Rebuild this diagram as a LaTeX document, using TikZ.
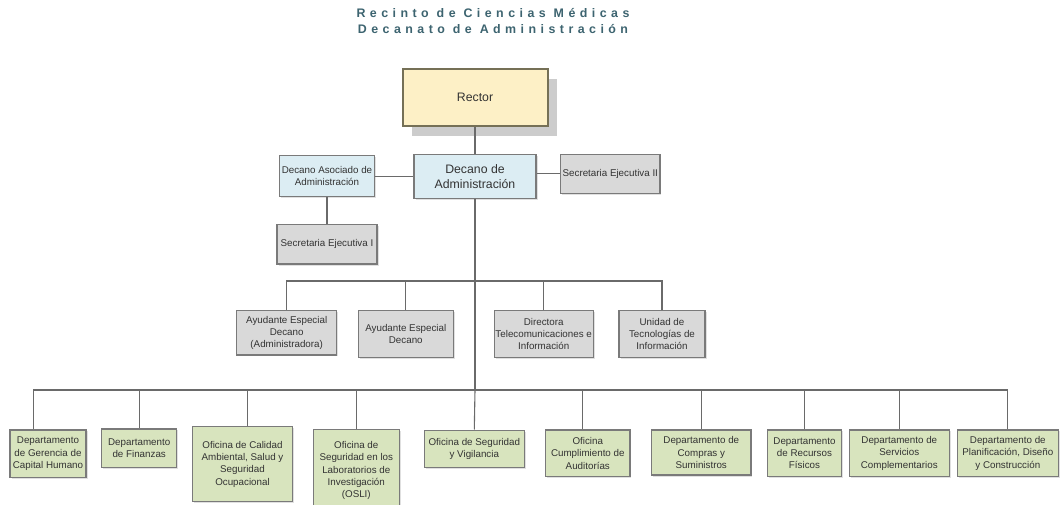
\documentclass[tikz,border=0pt]{standalone}
\usepackage{fontspec}
\setmainfont{Liberation Sans}
\usetikzlibrary{shadows}
\definecolor{titlec}{HTML}{3D6470}
\definecolor{rectorfill}{HTML}{FDF0C6}
\definecolor{rectordraw}{HTML}{757056}
\definecolor{bluefill}{HTML}{DCEDF3}
\definecolor{grayfill}{HTML}{D9D9D9}
\definecolor{greenfill}{HTML}{D8E4BE}
\definecolor{edgec}{HTML}{7A7A7A}
\definecolor{linec}{HTML}{6A6A6A}
\begin{document}
\begin{tikzpicture}[x=1pt,y=-1pt,
  titletext/.style={text=titlec,font=\bfseries\fontsize{12.4}{13}\selectfont\addfontfeature{LetterSpace=36}},
  basebox/.style={draw=edgec,line width=1.1pt,align=center,inner sep=0.5pt,
     font=\fontsize{9.8}{12.3}\selectfont,text=black!80,
     drop shadow={shadow xshift=1.5pt,shadow yshift=-1.5pt,fill=black,opacity=.12}},
  bluebox/.style={basebox,fill=bluefill},
  graybox/.style={basebox,fill=grayfill},
  greenbox/.style={basebox,fill=greenfill},
  rectorbox/.style={draw=rectordraw,line width=2pt,fill=rectorfill,align=center,
     font=\fontsize{12.3}{14}\selectfont,text=black!80,
     drop shadow={shadow xshift=9pt,shadow yshift=-10pt,fill=black!20,opacity=1}},
  conn/.style={draw=linec,line width=1.1pt}
]
\clip (0,0) rectangle (1061,505);
\fill[white] (0,0) rectangle (1061,505);

% titles
\node[titletext] (t1) at (493,13.5) {Recinto de Ciencias Médicas};
\node[titletext] (t2) at (493,29.5) {Decanato de Administración};

% top
\node[rectorbox,minimum width=145,minimum height=57] (rector) at (475,97.5) {Rector};
\node[bluebox,minimum width=122,minimum height=44,font=\fontsize{12.3}{15}\selectfont] (dec) at (475,176.3) {Decano de\\Administración};
\node[bluebox,minimum width=95,minimum height=40.7] (asoc) at (327,176.3) {Decano Asociado de\\Administración};
\node[graybox,minimum width=99.3,minimum height=39] (sec2) at (610.3,173.8) {Secretaria Ejecutiva II};
\node[graybox,minimum width=100,minimum height=39.7] (sec1) at (327,244.2) {Secretaria Ejecutiva I};

% middle row
\node[graybox,minimum width=100,minimum height=44.3] (aed) at (286.7,332.8) {Ayudante Especial\\Decano\\(Administradora)};
\node[graybox,minimum width=95,minimum height=46.6] (ae) at (405.8,334) {Ayudante Especial\\Decano};
\node[graybox,minimum width=99.3,minimum height=46.6] (dir) at (543.7,334) {Directora\\Telecomunicaciones e\\Información};
\node[graybox,minimum width=86,minimum height=46.6] (uni) at (662,334) {Unidad de\\Tecnologías de\\Información};

% bottom row
\node[greenbox,minimum width=76,minimum height=47.7] (b1) at (48,453.8) {Departamento\\de Gerencia de\\Capital Humano};
\node[greenbox,minimum width=75,minimum height=38.7] (b2) at (139.2,448.3) {Departamento\\de Finanzas};
\node[greenbox,minimum width=100.4,minimum height=75] (b3) at (242.5,464.2) {Oficina de Calidad\\Ambiental, Salud y\\Seguridad\\Ocupacional};
\node[greenbox,minimum width=86,minimum height=82.7] (b4) at (356.3,470.7) {Oficina de\\Seguridad en los\\Laboratorios de\\Investigación\\(OSLI)};
\node[greenbox,minimum width=99.7,minimum height=37.3] (b5) at (474.3,448.7) {Oficina de Seguridad\\y Vigilancia};
\node[greenbox,minimum width=84.3,minimum height=46.7] (b6) at (587.8,453.3) {Oficina\\Cumplimiento de\\Auditorías};
\node[greenbox,minimum width=99.3,minimum height=45] (b7) at (701.3,452.5) {Departamento de\\Compras y\\Suministros};
\node[greenbox,minimum width=74.4,minimum height=46.7] (b8) at (804.5,453.3) {Departamento\\de Recursos\\Físicos};
\node[greenbox,minimum width=100,minimum height=46.7] (b9) at (899.3,453.3) {Departamento de\\Servicios\\Complementarios};
\node[greenbox,minimum width=101,minimum height=46.7] (b10) at (1007.8,453.3) {Departamento de\\Planificación, Diseño\\y Construcción};

% bus coordinates
\coordinate (bus1) at (475,281);
\coordinate (bus2) at (475,390);

% connectors
\draw[conn] (rector) -- (dec);
\draw[conn] (asoc) -- (dec);
\draw[conn] (sec2.west) -- (sec2.west -| dec.east);
\draw[conn] (asoc) -- (sec1);
\draw[conn] (dec.south) -- (bus2);

\draw[conn] (bus1) -| (aed.north);
\draw[conn] (bus1) -| (ae.north);
\draw[conn] (bus1) -| (dir.north);
\draw[conn] (bus1) -| (uni.north);

\draw[conn] (bus2) -| ([xshift=-14.7pt]b1.north);
\draw[conn] (bus2) -| (b2.north);
\draw[conn] (bus2) -| ([xshift=5.2pt]b3.north);
\draw[conn] (bus2) -| (b4.north);
\draw[conn] (bus2) -- (b5.north);
\draw[conn] (bus2) -| ([xshift=-5.1pt]b6.north);
\draw[conn] (bus2) -| (b7.north);
\draw[conn] (bus2) -| (b8.north);
\draw[conn] (bus2) -| (b9.north);
\draw[conn] (bus2) -| (b10.north);
\end{tikzpicture}
\end{document}
